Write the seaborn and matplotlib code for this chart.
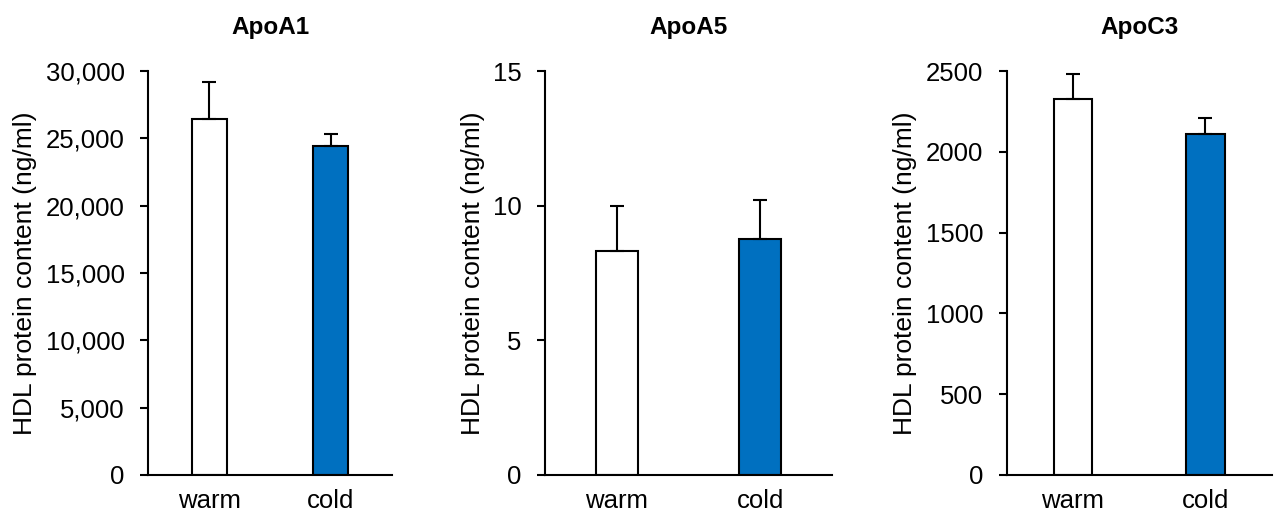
import pandas as pd
import numpy as np
import seaborn as sns
import matplotlib.pyplot as plt
from matplotlib.ticker import FuncFormatter

sns.set_style('ticks')
plt.rcParams['font.family'] = ['Liberation Sans', 'DejaVu Sans']
for k in ['text.color', 'axes.labelcolor', 'xtick.color', 'ytick.color', 'axes.edgecolor']:
    plt.rcParams[k] = 'black'

# Data
groups = ['warm', 'cold']
proteins = ['ApoA1', 'ApoA5', 'ApoC3']
apoa1_mean = [26400, 24400]
apoa1_err = [2800, 900]
apoa5_mean = [8.3, 8.75]
apoa5_err = [1.7, 1.45]
apoc3_mean = [2325, 2112]
apoc3_err = [155, 97]

y_max = [30000, 15, 2500]
y_step = [5000, 5, 500]
bar_colors = ['white', '#0070C0']

means = [apoa1_mean, apoa5_mean, apoc3_mean]
errs = [apoa1_err, apoa5_err, apoc3_err]

fig = plt.figure(figsize=(12.8, 5.21), dpi=100)
# axes boxes (left, right) in figure fraction
boxes = [(0.1159, 0.306), (0.426, 0.6498), (0.7865, 0.9935)]
bottom, top = 0.0883, 0.8637

for i, name in enumerate(proteins):
    l, r = boxes[i]
    ax = fig.add_axes([l, bottom, r - l, top - bottom])
    df = pd.DataFrame({'group': groups, 'value': means[i]})
    sns.barplot(data=df, x='group', y='value', hue='group', palette=bar_colors,
                saturation=1, width=0.29, edgecolor='black', linewidth=1.5,
                errorbar=None, legend=False, ax=ax)
    # upward-only error bars
    ax.errorbar(np.arange(len(groups)), means[i],
                yerr=[np.zeros(len(groups)), errs[i]],
                fmt='none', ecolor='black', elinewidth=1.5, capsize=5, capthick=1.5,
                zorder=1)
    ax.set_xlim(-0.5, 1.5)
    ax.set_ylim(0, y_max[i])
    ax.set_yticks(np.arange(0, y_max[i] + 1e-9, y_step[i]))
    if i == 0:
        ax.yaxis.set_major_formatter(FuncFormatter(lambda v, p: f'{int(v):,}'))
    else:
        ax.yaxis.set_major_formatter(FuncFormatter(lambda v, p: f'{int(v)}'))
    ax.set_xlabel('')
    ax.set_ylabel('HDL protein content (ng/ml)', fontsize=19, labelpad=6)
    ax.set_title(name, fontsize=17.5, fontweight='bold', pad=27)
    ax.tick_params(axis='y', labelsize=18.5, length=6, width=1.5,
                   direction='out', pad=11)
    ax.tick_params(axis='x', labelsize=18.5, length=0, pad=10)
    sns.despine(ax=ax)
    for s in ['left', 'bottom']:
        ax.spines[s].set_linewidth(1.5)

fig.savefig('out.png', dpi=100)
